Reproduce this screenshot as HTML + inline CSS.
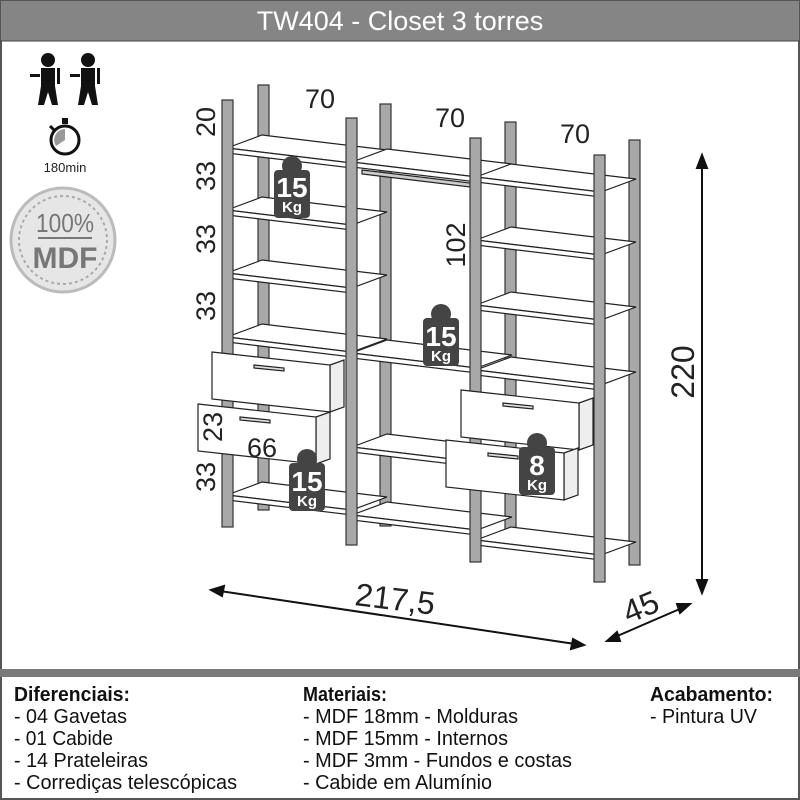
<!DOCTYPE html>
<html><head><meta charset="utf-8"><style>
html,body{margin:0;padding:0;background:#fff}
svg{display:block}
.t{font-family:"Liberation Sans",sans-serif;fill:#222}
.n{font-family:"Liberation Sans",sans-serif;fill:#111;font-size:20px}
.w{font-family:"Liberation Sans",sans-serif;fill:#fff;font-weight:bold;text-anchor:middle}
</style></head><body>
<svg id="s" width="800" height="800" viewBox="0 0 800 800" xmlns="http://www.w3.org/2000/svg">
<rect x="1" y="1" width="798" height="798" fill="#fff" stroke="#555" stroke-width="2"/>
<rect x="1" y="1" width="798" height="40" fill="#858585"/>
<line x1="0" y1="41" x2="800" y2="41" stroke="#444" stroke-width="1"/>
<text x="400" y="30" text-anchor="middle" font-family="Liberation Sans,sans-serif" font-size="27" fill="#fff">TW404 - Closet 3 torres</text>
<rect x="0" y="669" width="800" height="8" fill="#7a7a7a"/>
<g id="g"></g>
<g fill="#111">
 <circle cx="48" cy="60" r="7"/><rect x="41" y="68" width="14" height="18"/><polygon points="41,86 55,86 58,105 52,105 48,92 44,105 38,105"/><rect x="30" y="74" width="10" height="3"/><rect x="57" y="68" width="3" height="16"/>
 <circle cx="88" cy="60" r="7"/><rect x="81" y="68" width="14" height="18"/><polygon points="81,86 95,86 98,105 92,105 88,92 84,105 78,105"/><rect x="70" y="74" width="10" height="3"/><rect x="97" y="68" width="3" height="16"/>
</g>
<circle cx="65" cy="140" r="14" fill="#fff" stroke="#111" stroke-width="3"/>
<rect x="62" y="118" width="6" height="6" fill="#111"/>
<line x1="50" y1="126" x2="54" y2="130" stroke="#111" stroke-width="3"/>
<path d="M65 140 L65 129 A11 11 0 0 0 56 146 Z" fill="#999"/>
<text x="65" y="172" text-anchor="middle" class="t" font-size="13">180min</text>
<circle cx="63" cy="240" r="52" fill="#e6e6e6" stroke="#bbb" stroke-width="3"/>
<circle cx="63" cy="240" r="44" fill="none" stroke="#aaa" stroke-width="2" stroke-dasharray="3 3"/>
<text x="65" y="232" text-anchor="middle" font-family="Liberation Sans,sans-serif" font-size="26" fill="#777" textLength="58" lengthAdjust="spacingAndGlyphs">100%</text>
<line x1="38" y1="238" x2="92" y2="238" stroke="#777" stroke-width="2"/>
<text x="65" y="268" text-anchor="middle" font-family="Liberation Sans,sans-serif" font-weight="bold" font-size="30" fill="#777">MDF</text>
<g class="t" font-size="27">
 <text x="320" y="108" text-anchor="middle">70</text>
 <text x="450" y="127" text-anchor="middle">70</text>
 <text x="575" y="143" text-anchor="middle">70</text>
 <text transform="translate(215,122) rotate(-90)" text-anchor="middle">20</text>
 <text transform="translate(215,176) rotate(-90)" text-anchor="middle">33</text>
 <text transform="translate(215,239) rotate(-90)" text-anchor="middle">33</text>
 <text transform="translate(215,306) rotate(-90)" text-anchor="middle">33</text>
 <text transform="translate(222,427) rotate(-90)" text-anchor="middle">23</text>
 <text transform="translate(215,477) rotate(-90)" text-anchor="middle">33</text>
 <text x="262" y="457" text-anchor="middle">66</text>
 <text transform="translate(465,245) rotate(-90)" text-anchor="middle">102</text>
 <text transform="translate(694,372) rotate(-90)" text-anchor="middle" font-size="32">220</text>
 <text x="395" y="610" text-anchor="middle" font-size="32" transform="rotate(7 395 600)">217,5</text>
 <text x="640" y="618" text-anchor="middle" font-size="32" transform="rotate(-22 640 605)">45</text>
</g>
<g stroke="#111" stroke-width="2" fill="#111">
 <line x1="702" y1="165" x2="702" y2="585"/><polygon points="702,155 697,168 707,168"/><polygon points="702,593 697,580 707,580"/>
 <line x1="220" y1="591" x2="575" y2="644"/><polygon points="211,590 224,586 222,596"/><polygon points="584,645 571,649 573,639"/>
 <line x1="615" y1="637" x2="682" y2="608"/><polygon points="607,641 617,632 620,641"/><polygon points="690,604 680,613 677,604"/>
</g>
<g class="n" lengthAdjust="spacingAndGlyphs">
 <text x="14" y="701" font-weight="bold" textLength="116" lengthAdjust="spacingAndGlyphs">Diferenciais:</text>
 <text x="14" y="723" textLength="113" lengthAdjust="spacingAndGlyphs">- 04 Gavetas</text>
 <text x="14" y="745" textLength="99" lengthAdjust="spacingAndGlyphs">- 01 Cabide</text>
 <text x="14" y="767" textLength="134" lengthAdjust="spacingAndGlyphs">- 14 Prateleiras</text>
 <text x="14" y="789" textLength="223" lengthAdjust="spacingAndGlyphs">- Corrediças telescópicas</text>
 <text x="303" y="701" font-weight="bold" textLength="84" lengthAdjust="spacingAndGlyphs">Materiais:</text>
 <text x="303" y="723" textLength="215" lengthAdjust="spacingAndGlyphs">- MDF 18mm - Molduras</text>
 <text x="303" y="745" textLength="205" lengthAdjust="spacingAndGlyphs">- MDF 15mm - Internos</text>
 <text x="303" y="767" textLength="269" lengthAdjust="spacingAndGlyphs">- MDF 3mm - Fundos e costas</text>
 <text x="303" y="789" textLength="189" lengthAdjust="spacingAndGlyphs">- Cabide em Alumínio</text>
 <text x="650" y="701" font-weight="bold" textLength="123" lengthAdjust="spacingAndGlyphs">Acabamento:</text>
 <text x="650" y="723" textLength="107" lengthAdjust="spacingAndGlyphs">- Pintura UV</text>
</g>
<g id="wt"></g>
<g>
 <text x="292" y="197" class="w" font-size="28">15</text><text x="292" y="212" class="w" font-size="15">Kg</text>
 <text x="441" y="346" class="w" font-size="28">15</text><text x="441" y="361" class="w" font-size="15">Kg</text>
 <text x="307" y="491" class="w" font-size="28">15</text><text x="307" y="506" class="w" font-size="15">Kg</text>
 <text x="537" y="475" class="w" font-size="28">8</text><text x="537" y="490" class="w" font-size="15">Kg</text>
</g>
</svg>
<script>
var g=document.getElementById('g'),NS='http://www.w3.org/2000/svg';
function el(t,a,p){var e=document.createElementNS(NS,t);for(var k in a)e.setAttribute(k,a[k]);(p||g).appendChild(e);return e;}
function poly(pts,f){el('polygon',{points:pts.map(function(p){return p.join(',')}).join(' '),fill:f||'#fff',stroke:'#222','stroke-width':1.2});}
function post(x,y,h){el('rect',{x:x,y:y,width:11,height:h,fill:'#a8a8a8',stroke:'#333','stroke-width':1.2});}
post(258,85,425);post(380,104,422);post(505,122,420);post(629,140,425);
function shelf(x,y){poly([[x,y],[x+125,y+15],[x+160,y+2],[x+35,y-13]]);poly([[x,y],[x+125,y+15],[x+125,y+20],[x,y+5]]);}
[148,210,273,337,495].forEach(function(y){shelf(227,y)});
[162,353,447,515].forEach(function(y){shelf(352,y)});
[177,240,305,370,540].forEach(function(y){shelf(476,y)});
poly([[362,170],[470,183],[470,187],[362,174]],'#ccc');
post(222,100,427);post(346,118,427);post(470,138,424);post(594,155,427);
function drawer(x,y){poly([[x+118,y+13],[x+132,y+8],[x+132,y+55],[x+118,y+60]],'#eee');poly([[x,y],[x+118,y+13],[x+118,y+60],[x,y+47]]);poly([[x+42,y+13],[x+72,y+16],[x+72,y+19],[x+42,y+16]],'#ddd');}
drawer(212,352);drawer(198,404);drawer(461,390);drawer(446,440);
var wt=document.getElementById('wt');
function weight(cx,y){el('circle',{cx:cx,cy:y-4,r:10,fill:'#444'},wt);el('rect',{x:cx-18,y:y,width:36,height:48,rx:4,fill:'#444'},wt);}
weight(292,170);weight(441,318);weight(307,463);weight(537,447);
</script>
</body></html>
